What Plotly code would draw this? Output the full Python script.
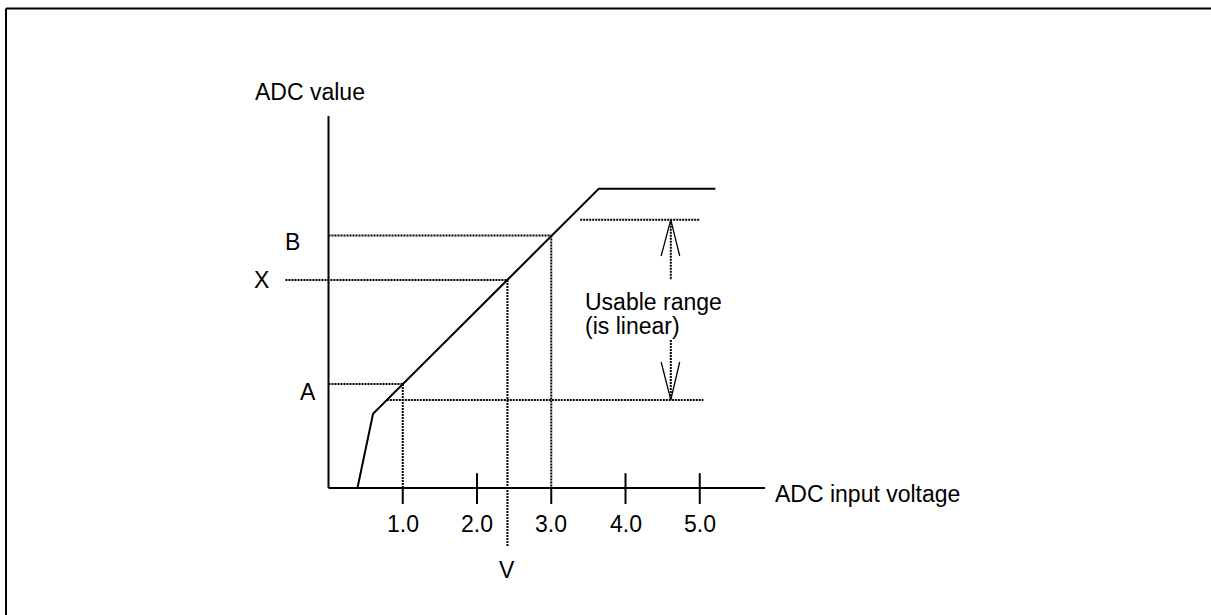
import plotly.graph_objects as go

# ---- data (volts on x, ADC value in arbitrary units on y) ----
curve_v = [0.39, 0.60, 3.64, 5.21]
curve_adc = [0.0, 1.0, 4.03, 4.03]

tick_values = [1.0, 2.0, 3.0, 4.0, 5.0]
tick_labels = ["1.0", "2.0", "3.0", "4.0", "5.0"]

level_names = ["A", "X", "B"]
level_volts = [1.0, 2.41, 3.0]
level_adc = [1.40, 2.80, 3.40]

usable_low = 1.186
usable_high = 3.612

FONT = "Liberation Sans, Arial, sans-serif"
FS = 23

# pixel mapping: x_px = 328.5 + 74.25*v ; y_px = 488 - 74.25*a
SC = 74.25
X0, Y0 = 328.5, 488.0
W, H = 1211, 615
xr = [-X0 / SC, (W - X0) / SC]
yr = [(Y0 - H) / SC, Y0 / SC]

fig = go.Figure()

solid = dict(color="black", width=2)
dotted = dict(color="black", width=2, dash="2px,1px")
thin = dict(color="black", width=1.3)


def seg(xs, ys, line):
    fig.add_trace(go.Scatter(x=xs, y=ys, mode="lines", line=line,
                             hoverinfo="skip", showlegend=False))


# axes
seg([0, 0], [0, 5.01], solid)
seg([0, 5.88], [0, 0], solid)

# ticks
for v in tick_values:
    top = 0 if v in (1.0, 3.0) else 0.2
    seg([v, v], [top, -0.215], solid)

# transfer curve
seg(curve_v, curve_adc, solid)

# A, X, B guide lines
for name, v, a in zip(level_names, level_volts, level_adc):
    x_start = -0.58 if name == "X" else 0
    seg([x_start, v], [a, a], dotted)
    y_end = -0.78 if name == "X" else 0
    seg([v, v], [a, y_end], dotted)

# usable range lines
low_start = 1 + (usable_low - level_adc[0]) / 0.995
seg([low_start, 5.05], [usable_low, usable_low], dotted)
seg([3.39, 5.0], [usable_high, usable_high], dotted)

# arrows
ax = 4.61
seg([ax, ax], [usable_high, 2.80], dotted)
seg([4.48, ax, 4.73], [3.125, usable_high, 3.125], thin)
seg([ax, ax], [1.993, usable_low], dotted)
seg([4.48, ax, 4.73], [1.697, usable_low, 1.697], thin)

ann = []


def txt(x, y, s, xa="center", ya="middle"):
    ann.append(dict(x=x, y=y, text=s, showarrow=False, xanchor=xa, yanchor=ya,
                    font=dict(family=FONT, size=FS, color="black")))


txt(-0.25, 5.333, "ADC value")
txt(-0.49, 3.313, "B")
txt(-0.896, 2.795, "X")
txt(-0.276, 1.293, "A")
for v, lab in zip(tick_values, tick_labels):
    txt(v, -0.485, lab)
txt(level_volts[1], -1.104, "V")
txt(5.986, -0.08, "ADC input voltage", xa="left")
txt(3.428, 2.505, "Usable range", xa="left")
txt(3.428, 2.182, "(is linear)", xa="left")

# outer frame (top and left edges visible)
shapes = [
    dict(type="line", xref="paper", yref="paper", x0=6 / W, x1=1.0,
         y0=1 - 8.5 / H, y1=1 - 8.5 / H, line=dict(color="black", width=2)),
    dict(type="line", xref="paper", yref="paper", x0=6 / W, x1=6 / W,
         y0=0, y1=1 - 8.5 / H, line=dict(color="black", width=2)),
]

fig.update_layout(
    width=W, height=H,
    margin=dict(l=0, r=0, t=0, b=0),
    paper_bgcolor="white", plot_bgcolor="white",
    xaxis=dict(range=xr, visible=False, fixedrange=True),
    yaxis=dict(range=yr, visible=False, fixedrange=True),
    annotations=ann, shapes=shapes, showlegend=False,
)

fig.write_html(
    "out.html",
    config={"displayModeBar": False},
    post_script="document.body.style.margin='0';document.body.style.overflow='hidden';",
)
